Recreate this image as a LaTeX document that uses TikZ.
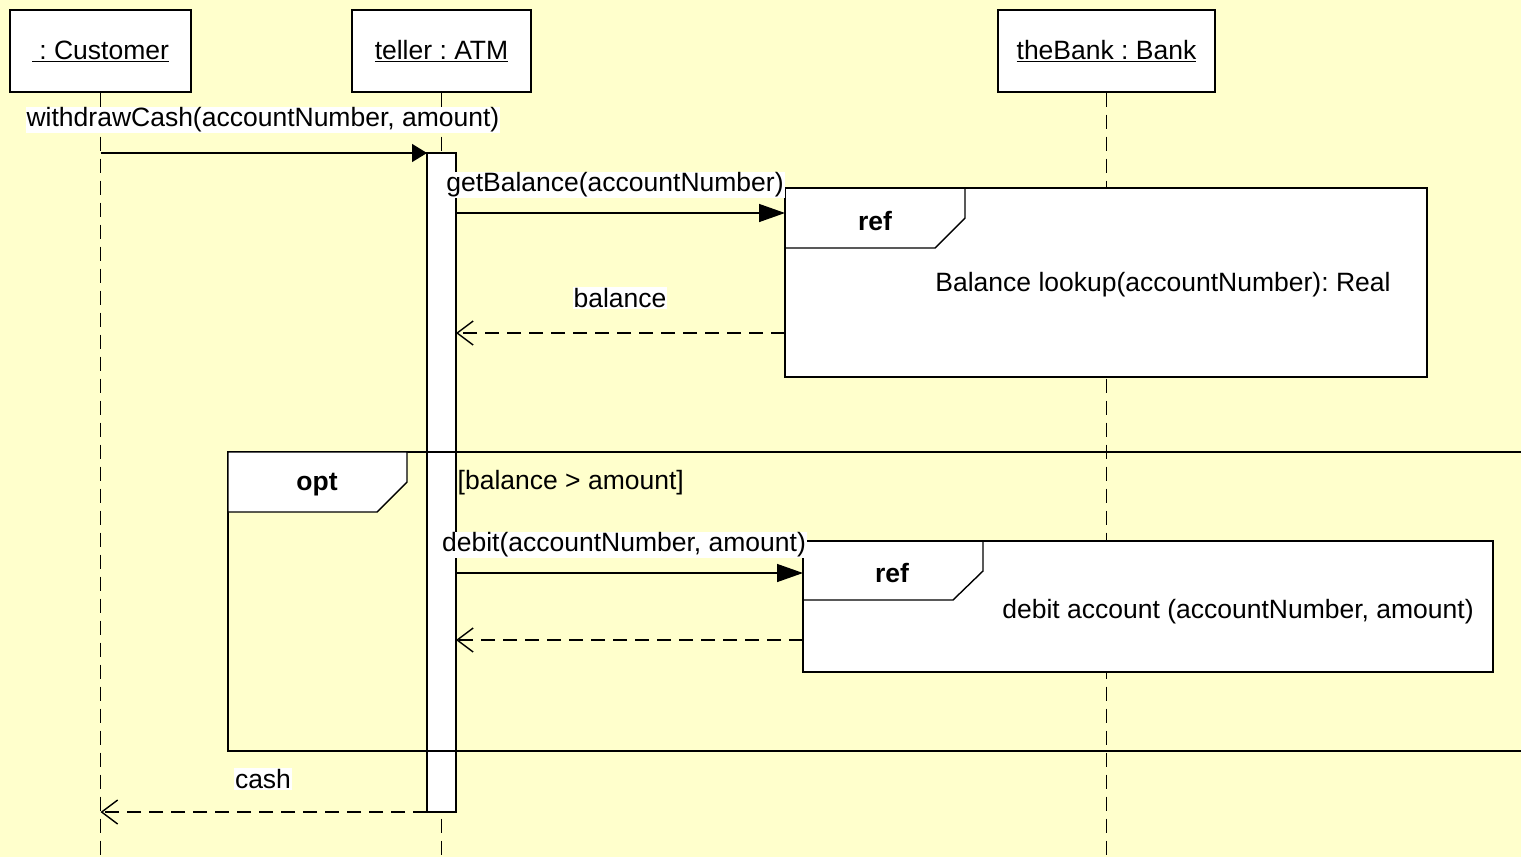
\documentclass[tikz,border=0pt]{standalone}
\usepackage{fontspec}
\setmainfont{Liberation Sans}
\usetikzlibrary{arrows.meta}
\definecolor{bgyellow}{HTML}{FFFFCC}
\frenchspacing
\begin{document}
\begin{tikzpicture}[x=1pt,y=-1pt,line width=1.4pt,
  font=\fontsize{26.5}{30}\selectfont\frenchspacing,
  obj/.style={draw,fill=white,inner sep=0pt},
  life/.style={dash pattern=on 14pt off 8pt},
  actbox/.style={draw,fill=white,minimum width=29pt,minimum height=659pt,inner sep=0pt,outer sep=0pt},
  msg/.style={-{Triangle[length=26pt,width=18pt]}},
  msgsmall/.style={-{Triangle[length=15pt,width=18pt]}},
  ret/.style={dash pattern=on 14pt off 8pt,-{Straight Barb[length=16pt,width=24pt,line width=1.4pt]}},
  lbl/.style={fill=white,inner xsep=1pt,inner ysep=1pt},
  refbox/.style={draw,fill=white,inner sep=0pt,outer sep=0pt},
  tag/.style={font=\fontsize{26.5}{30}\selectfont\bfseries}]
\useasboundingbox[fill=bgyellow] (0,0) rectangle (1521,857);

% lifeline heads
\node[obj,minimum width=181pt,minimum height=82pt] (cust) at (100.5,51) {\underline{\ : Customer}};
\node[obj,minimum width=179pt,minimum height=82pt] (atm) at (441.5,51) {\underline{teller : ATM}};
\node[obj,minimum width=217pt,minimum height=82pt] (bank) at (1106.5,51) {\underline{theBank : Bank}};

\coordinate (custEnd) at (100.5,860);
\coordinate (atmEnd) at (441.5,860);
\coordinate (bankEnd) at (1106.5,860);
\draw[life] (cust.south) -- (custEnd);
\draw[life] (atm.south) -- (atmEnd);
\draw[life] (bank.south) -- (bankEnd);

% activation
\node[actbox] (act) at (441.5,482.5) {};

% row coordinates
\coordinate (y0) at (0,153);
\coordinate (y1) at (0,213);
\coordinate (y2) at (0,333);
\coordinate (y3) at (0,573);
\coordinate (y4) at (0,640);
\coordinate (y5) at (0,812);

% withdrawCash
\draw[msgsmall] (cust.south |- y0) -- (act.west |- y0);

% opt frame
\coordinate (optNW) at (228,452);
\coordinate (optSE) at (1530,751);
\draw (optNW) rectangle (optSE);
\draw[fill=white] (optNW) -- ++(179,0) -- ++(0,30) -- ++(-30,30) -- ++(-149,0) -- cycle;
\node[tag] (opttag) at (317,485) {opt};
\node[anchor=west,inner sep=0pt] (guard) at (457,483) {[balance > amount]};

% ref 1
\node[refbox,minimum width=642pt,minimum height=189pt] (ref1) at (1106,282.5) {};
\draw ([xshift=180pt]ref1.north west) -- ++(0,30) -- ++(-30,30) -- ++(-150,0);
\node[tag] (ref1tag) at (875,221) {ref};
\node (ref1txt) at (1163,285) {Balance lookup(accountNumber): Real};

% ref 2
\node[refbox,minimum width=690pt,minimum height=131pt] (ref2) at (1148,606.5) {};
\draw ([xshift=180pt]ref2.north west) -- ++(0,30) -- ++(-30,29) -- ++(-150,0);
\node[tag] (ref2tag) at (892,573) {ref};
\node (ref2txt) at (1238,612) {debit account (accountNumber, amount)};

% messages
\draw[msg] (act.east |- y1) -- (ref1.west |- y1);
\draw[ret] (ref1.west |- y2) -- (act.east |- y2);
\draw[msg] (act.east |- y3) -- (ref2.west |- y3);
\draw[ret] (ref2.west |- y4) -- (act.east |- y4);
\draw[ret] (act.west |- y5) -- (cust.south |- y5);

% labels
\node[lbl] (l1) at (263,120) {withdrawCash(accountNumber, amount)};
\node[lbl] (l2) at (615,185) {getBalance(accountNumber)};
\node[lbl] (l3) at (620,298) {balance};
\node[lbl] (l4) at (624,545) {debit(accountNumber, amount)};
\node[lbl] (l5) at (263,779) {cash};
\end{tikzpicture}
\end{document}
